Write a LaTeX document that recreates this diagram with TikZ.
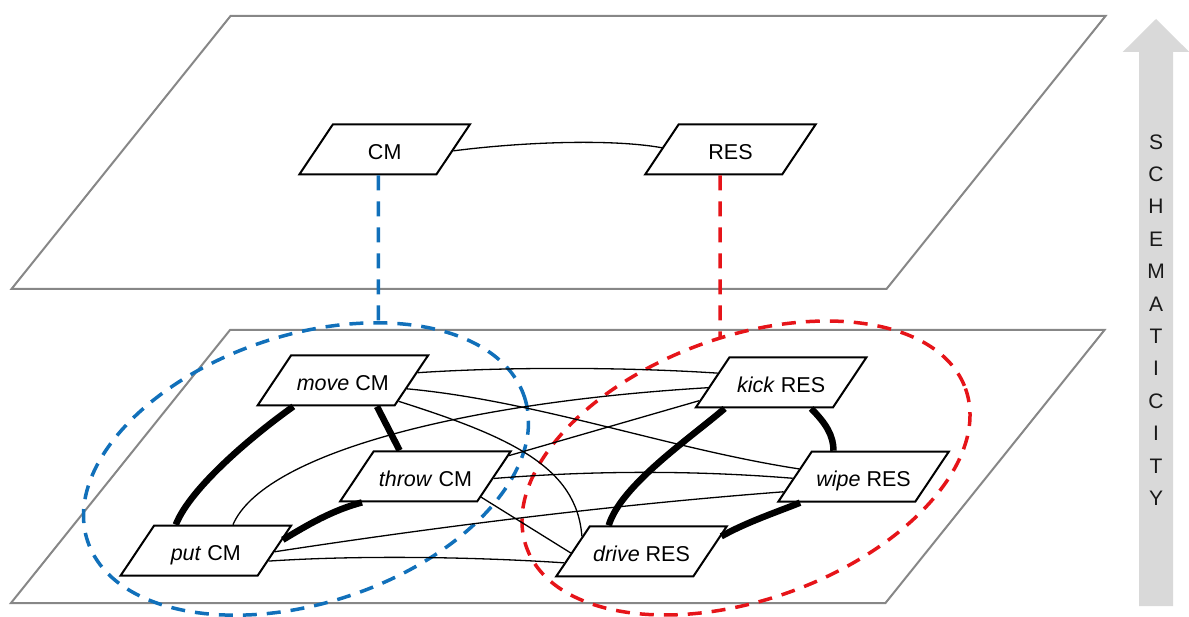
\documentclass[tikz,border=0pt]{standalone}
\usepackage{fontspec}
\setmainfont{Liberation Sans}
\usetikzlibrary{shapes.geometric,calc,intersections}
\definecolor{planegray}{RGB}{135,135,135}
\definecolor{arrowgray}{RGB}{217,217,217}
\definecolor{cmblue}{RGB}{17,112,186}
\definecolor{resred}{RGB}{230,20,25}
\begin{document}
\begin{tikzpicture}[x=1pt,y=-1pt,
  plane/.style={draw=planegray,line width=2pt,line join=miter},
  construction/.style={draw=black,fill=white,line width=2pt,trapezium,
    trapezium left angle=56.2,trapezium right angle=123.8,
    trapezium stretches body,minimum width=170.5pt,
    inner sep=0pt,text height=35.1pt,text depth=14.9pt,
    font=\fontsize{21.5}{25}\selectfont},
  link/.style={line width=1.3pt},
  strong/.style={line width=6.5pt},
  setring/.style={line width=3.5pt,dash pattern=on 14pt off 10pt},
  instance/.style={line width=3.5pt,dash pattern=on 15pt off 11pt}]
\useasboundingbox (0,0) rectangle (1189,617);

% the two levels of abstraction
\draw[plane] (11.5,289) -- (230.5,16) -- (1105.5,16) -- (886.5,289) -- cycle;
\draw[plane] (11,603) -- (230,330) -- (1104.5,330) -- (885.5,603) -- cycle;

% schematicity axis
\fill[arrowgray] (1139,606) -- (1139,52) -- (1122.7,52) -- (1156,19)
  -- (1189.3,52) -- (1173,52) -- (1173,606) -- cycle;
\node[font=\fontsize{21}{32.4}\selectfont,align=center,inner sep=0pt,text=black!90]
  (axis) at (1156,319.9) {S\\C\\H\\E\\M\\A\\T\\I\\C\\I\\T\\Y};

% families of constructions
\draw[setring,cmblue,name path=cmring,rotate around={18.2:(306,469)}]
  (306,469) ellipse [x radius=230, y radius=134];
\draw[setring,resred,name path=resring,rotate around={19.9:(746,468)}]
  (746,468) ellipse [x radius=233.4, y radius=131.5];

% constructions
\node[construction] (cm) at (384.7,149.3) {CM};
\node[construction] (res) at (730.5,149.3) {RES};
\node[construction] (move) at (342.8,380.5) {\textit{move} CM};
\node[construction] (throw) at (425.4,476.4) {\textit{throw} CM};
\node[construction] (put) at (205.8,550.7) {\textit{put} CM};
\node[construction] (kick) at (781.1,382.5) {\textit{kick} RES};
\node[construction] (wipe) at (863.5,476.7) {\textit{wipe} RES};
\node[construction] (drive) at (641.5,551.4) {\textit{drive} RES};

% attachment points on the borders
\coordinate (cm-r) at ($(cm.top right corner)!.53!(cm.bottom right corner)$);
\coordinate (cm-b) at ($(cm.bottom left corner)!.58!(cm.bottom right corner)$);
\coordinate (res-l) at ($(res.top left corner)!.47!(res.bottom left corner)$);
\coordinate (res-b) at ($(res.bottom left corner)!.55!(res.bottom right corner)$);

\coordinate (move-k) at ($(move.top right corner)!.35!(move.bottom right corner)$);
\coordinate (move-w) at ($(move.top right corner)!.66!(move.bottom right corner)$);
\coordinate (move-d) at ($(move.top right corner)!.90!(move.bottom right corner)$);
\coordinate (move-p) at ($(move.bottom left corner)!.27!(move.bottom right corner)$);
\coordinate (move-t) at ($(move.bottom left corner)!.87!(move.bottom right corner)$);

\coordinate (throw-m) at ($(throw.top left corner)!.19!(throw.top right corner)$);
\coordinate (throw-p) at ($(throw.bottom left corner)!.17!(throw.bottom right corner)$);
\coordinate (throw-k) at ($(throw.top right corner)!.10!(throw.bottom right corner)$);
\coordinate (throw-w) at ($(throw.top right corner)!.54!(throw.bottom right corner)$);
\coordinate (throw-d) at ($(throw.top right corner)!.90!(throw.bottom right corner)$);

\coordinate (put-m) at ($(put.top left corner)!.16!(put.top right corner)$);
\coordinate (put-k) at ($(put.top left corner)!.57!(put.top right corner)$);
\coordinate (put-t) at ($(put.top right corner)!.29!(put.bottom right corner)$);
\coordinate (put-w) at ($(put.top right corner)!.52!(put.bottom right corner)$);
\coordinate (put-d) at ($(put.top right corner)!.70!(put.bottom right corner)$);

\coordinate (kick-m) at ($(kick.top left corner)!.32!(kick.bottom left corner)$);
\coordinate (kick-p) at ($(kick.top left corner)!.60!(kick.bottom left corner)$);
\coordinate (kick-t) at ($(kick.top left corner)!.85!(kick.bottom left corner)$);
\coordinate (kick-d) at ($(kick.bottom left corner)!.22!(kick.bottom right corner)$);
\coordinate (kick-w) at ($(kick.bottom left corner)!.84!(kick.bottom right corner)$);

\coordinate (wipe-m) at ($(wipe.top left corner)!.35!(wipe.bottom left corner)$);
\coordinate (wipe-t) at ($(wipe.top left corner)!.53!(wipe.bottom left corner)$);
\coordinate (wipe-p) at ($(wipe.top left corner)!.79!(wipe.bottom left corner)$);
\coordinate (wipe-k) at ($(wipe.top left corner)!.16!(wipe.top right corner)$);
\coordinate (wipe-d) at ($(wipe.bottom left corner)!.17!(wipe.bottom right corner)$);

\coordinate (drive-m) at ($(drive.top left corner)!.21!(drive.bottom left corner)$);
\coordinate (drive-t) at ($(drive.top left corner)!.53!(drive.bottom left corner)$);
\coordinate (drive-p) at ($(drive.top left corner)!.72!(drive.bottom left corner)$);
\coordinate (drive-k) at ($(drive.top left corner)!.14!(drive.top right corner)$);
\coordinate (drive-w) at ($(drive.top right corner)!.21!(drive.bottom right corner)$);

% schema level
\draw[link] (cm-r) .. controls +(70,-9) and +(-50,-9) .. (res-l);

% strong links within each family
\draw[strong] (move-p) .. controls +(-38,27) and +(15,-38) .. (put-m);
\draw[strong] (move-t) -- (throw-m);
\draw[strong] (throw-p) .. controls +(-30,8) and +(25,-15) .. (put-t);
\draw[strong] (kick-d) .. controls +(-35,30) and +(12,-40) .. (drive-k);
\draw[strong] (kick-w) .. controls +(15,15) and +(0,-15) .. (wipe-k);
\draw[strong] (wipe-d) .. controls +(-25,10) and +(25,-14) .. (drive-w);

% weak links across families
\draw[link] (move-k) .. controls +(90,-6) and +(-90,-6) .. (kick-m);
\draw[link] (move-w) .. controls +(130,12) and +(-130,-20) .. (wipe-m);
\draw[link] (move-d) .. controls +(110,35) and +(-5,-70) .. (drive-m);
\draw[link] (put-k) .. controls +(30,-70) and +(-250,15) .. (kick-p);
\draw[link] (throw-k) -- (kick-t);
\draw[link] (throw-w) .. controls +(100,-8) and +(-100,-8) .. (wipe-t);
\draw[link] (throw-d) -- (drive-t);
\draw[link] (put-w) .. controls +(170,-26) and +(-170,13) .. (wipe-p);
\draw[link] (put-d) .. controls +(90,-6) and +(-90,-6) .. (drive-p);

% instantiation of the schemas
\path[name path=cmdrop] (cm-b) -- ++(0,200);
\path[name path=resdrop] (res-b) -- ++(0,200);
\draw[instance,cmblue,name intersections={of=cmring and cmdrop,by=cm-hit}]
  (cm-b) -- (cm-hit);
\draw[instance,resred,name intersections={of=resring and resdrop,by=res-hit}]
  (res-b) -- (res-hit);
\end{tikzpicture}
\end{document}
